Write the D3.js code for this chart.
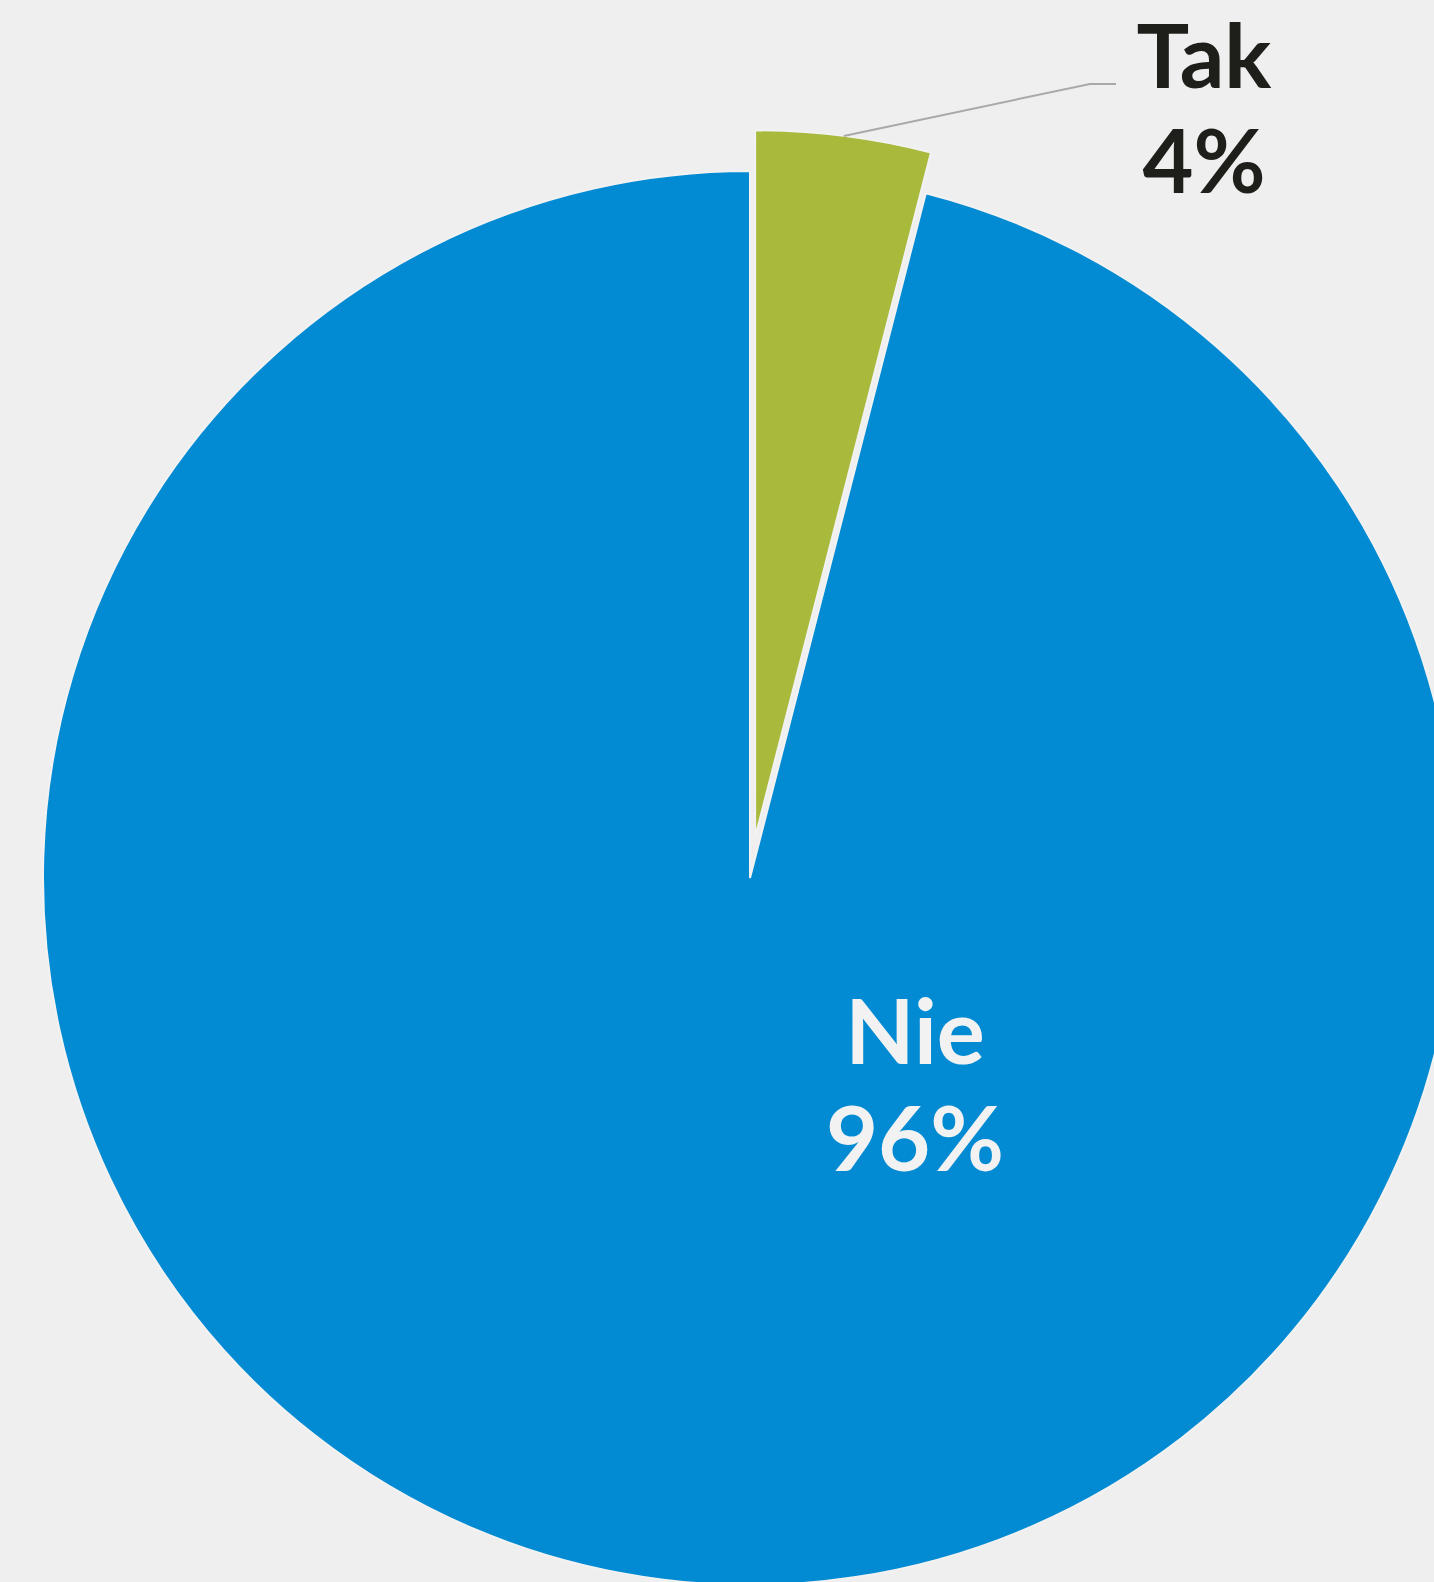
<!DOCTYPE html>
<html>
<head>
<meta charset="utf-8">
<script src="https://cdn.jsdelivr.net/npm/d3@7"></script>
<style>
  html, body { margin: 0; padding: 0; background: #efefef; }
  svg { display: block; }
</style>
</head>
<body>
<svg id="chart" width="1434" height="1582"></svg>
<script>
// Answer shares, in percent
const categories = ["Tak", "Nie"];
const shares = [4, 96];
const colors = ["#a8b93c", "#028ad3"];
const textColors = ["#1e1e1a", "#f2f2f2"];

const data = categories.map((c, i) => ({ name: c, value: shares[i], color: colors[i], text: textColors[i] }));

const svg = d3.select("#chart");
const cx = 750, cy = 878, radius = 707, explode = 41;

const pie = d3.pie().sort(null).value(d => d.value).startAngle(0).endAngle(2 * Math.PI);
const arcs = pie(data);
const arc = d3.arc().innerRadius(0).outerRadius(radius);
const rim = d3.arc().innerRadius(radius).outerRadius(radius);

const g = svg.append("g").attr("transform", `translate(${cx},${cy})`);

// Pull the small slice out along its bisector
function offset(d) {
  if (d.data.name !== "Tak") return [0, 0];
  const a = (d.startAngle + d.endAngle) / 2;
  return [explode * Math.sin(a), -explode * Math.cos(a)];
}

g.selectAll("path.slice")
  .data(arcs)
  .join("path")
  .attr("class", "slice")
  .attr("transform", d => `translate(${offset(d)})`)
  .attr("d", arc)
  .attr("fill", d => d.data.color)
  .attr("stroke", "#f2f2f2")
  .attr("stroke-width", 2)
  .attr("stroke-linejoin", "miter");

const font = "Lato, 'Open Sans', sans-serif";

// Outside label with leader line for the small slice
const tak = arcs[0];
const [ox, oy] = offset(tak);
const [rx, ry] = rim.centroid(tak);
const start = [cx + ox + rx, cy + oy + ry];
const elbow = [1090, 84];
const end = [1116, 84];
svg.append("path")
  .attr("d", d3.line()([start, elbow, end]))
  .attr("fill", "none")
  .attr("stroke", "#a9a9a9")
  .attr("stroke-width", 2);

const takLabel = svg.append("text")
  .attr("text-anchor", "middle")
  .attr("font-family", font)
  .attr("font-weight", 700)
  .attr("font-size", 88)
  .attr("fill", tak.data.text);
takLabel.append("tspan").attr("x", 1204).attr("y", 88).text(tak.data.name);
takLabel.append("tspan").attr("x", 1204).attr("y", 193).text(`${tak.data.value}%`);

// Inside label for the large slice
const nie = arcs[1];
const nieLabel = svg.append("text")
  .attr("text-anchor", "middle")
  .attr("font-family", font)
  .attr("font-weight", 700)
  .attr("font-size", 90)
  .attr("fill", nie.data.text);
nieLabel.append("tspan").attr("x", 915).attr("y", 1064).text(nie.data.name);
nieLabel.append("tspan").attr("x", 915).attr("y", 1171).text(`${nie.data.value}%`);
</script>
</body>
</html>
